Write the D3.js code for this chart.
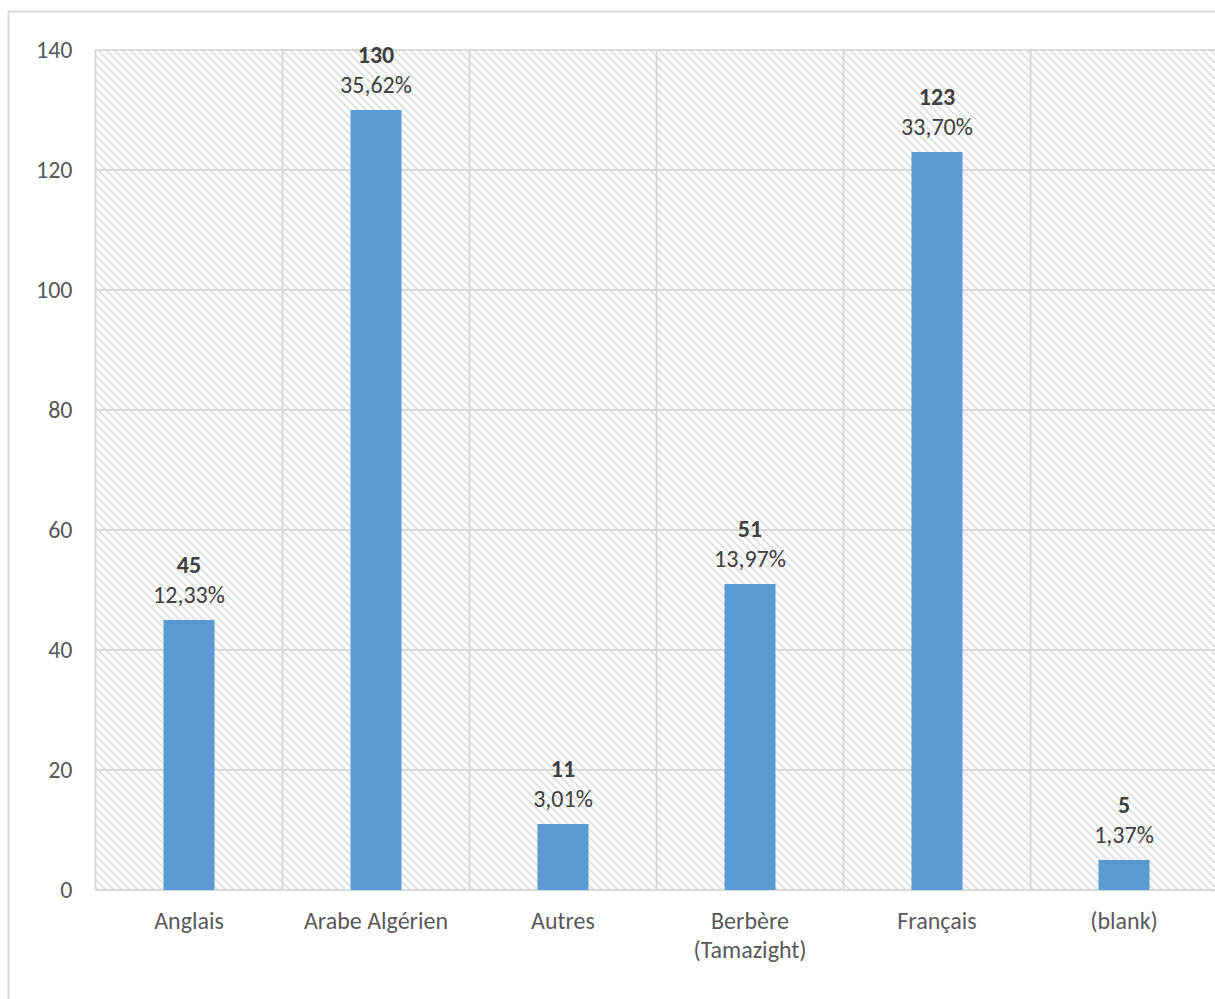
<!DOCTYPE html>
<html>
<head>
<meta charset="utf-8">
<script src="https://cdn.jsdelivr.net/npm/d3@7"></script>
<style>
  html, body { margin: 0; padding: 0; background: #fff; }
  svg { display: block; font-family: Calibri, Carlito, "Open Sans", sans-serif; }
</style>
</head>
<body>
<svg id="chart" width="1215" height="999"></svg>
<script>
// Language distribution: counts and shares per category
const categories = ["Anglais", "Arabe Algérien", "Autres", "Berbère\n(Tamazight)", "Français", "(blank)"];
const counts = [45, 130, 11, 51, 123, 5];
const shares = ["12,33%", "35,62%", "3,01%", "13,97%", "33,70%", "1,37%"];
const yTicks = [0, 20, 40, 60, 80, 100, 120, 140];

const FONT = 24;
const svg = d3.select("#chart");

// Outer chart frame
svg.append("rect")
  .attr("x", 8.5).attr("y", 11.5)
  .attr("width", 1240).attr("height", 1020)
  .attr("fill", "#fff").attr("stroke", "#d9d9d9").attr("stroke-width", 2);

const plot = { left: 95.5, top: 50, right: 1217.5, bottom: 890 };

// Diagonal hatch fill for the plot area
const defs = svg.append("defs");
const T = 8;
const pat = defs.append("pattern")
  .attr("id", "hatch")
  .attr("patternUnits", "userSpaceOnUse")
  .attr("width", T).attr("height", T);
pat.append("rect").attr("width", T).attr("height", T).attr("fill", "#fff");
pat.append("path")
  .attr("d", `M-1,-1 L${T + 1},${T + 1} M-${T + 1},-1 L1,${T + 1} M${T - 1},-1 L${2 * T + 1},${T + 1}`)
  .attr("stroke", "#dedede").attr("stroke-width", 1.7);

const x = d3.scaleBand()
  .domain(categories)
  .range([plot.left, plot.right])
  .paddingInner(0).paddingOuter(0);

const y = d3.scaleLinear()
  .domain([0, 140])
  .range([plot.bottom, plot.top]);

svg.append("rect")
  .attr("x", plot.left).attr("y", plot.top)
  .attr("width", plot.right - plot.left).attr("height", plot.bottom - plot.top)
  .attr("fill", "url(#hatch)");

// Horizontal gridlines
svg.append("g")
  .selectAll("line")
  .data(yTicks)
  .join("line")
  .attr("x1", plot.left).attr("x2", plot.right)
  .attr("y1", d => y(d)).attr("y2", d => y(d))
  .attr("stroke", "#d9d9d9").attr("stroke-width", 2);

// Vertical gridlines at category boundaries
const bounds = categories.map(c => x(c)).concat([plot.right]);
svg.append("g")
  .selectAll("line")
  .data(bounds)
  .join("line")
  .attr("x1", d => d).attr("x2", d => d)
  .attr("y1", plot.top).attr("y2", plot.bottom)
  .attr("stroke", "#d9d9d9").attr("stroke-width", 2);

// Y axis labels
const yAxis = d3.axisLeft(y).tickValues(yTicks).tickSize(0).tickPadding(0);
const gy = svg.append("g").attr("transform", `translate(${plot.left - 23},0)`).call(yAxis);
gy.select(".domain").remove();
gy.selectAll("text")
  .attr("fill", "#595959")
  .attr("font-size", FONT)
  .attr("font-family", "Calibri, Carlito, 'Open Sans', sans-serif")
  .attr("dy", "0.33em");

// X axis labels (multi-line)
const xl = svg.append("g");
categories.forEach(c => {
  const lines = c.split("\n");
  const t = xl.append("text")
    .attr("x", x(c) + x.bandwidth() / 2)
    .attr("y", 929)
    .attr("text-anchor", "middle")
    .attr("fill", "#595959")
    .attr("font-size", FONT);
  lines.forEach((ln, i) => {
    t.append("tspan")
      .attr("x", x(c) + x.bandwidth() / 2)
      .attr("dy", i === 0 ? 0 : 29)
      .text(ln);
  });
});

// Bars
const barW = 51;
svg.append("g")
  .selectAll("rect")
  .data(categories)
  .join("rect")
  .attr("x", (d) => x(d) + x.bandwidth() / 2 - barW / 2)
  .attr("y", (d, i) => y(counts[i]))
  .attr("width", barW)
  .attr("height", (d, i) => y(0) - y(counts[i]))
  .attr("fill", "#5b9bd5");

// Data labels: count (bold) above percentage
const lab = svg.append("g");
categories.forEach((c, i) => {
  const cx = x(c) + x.bandwidth() / 2;
  const top = y(counts[i]);
  lab.append("text")
    .attr("x", cx).attr("y", top - 47)
    .attr("text-anchor", "middle")
    .attr("fill", "#404040")
    .attr("font-size", FONT)
    .attr("font-weight", "bold")
    .text(counts[i]);
  lab.append("text")
    .attr("x", cx).attr("y", top - 17)
    .attr("text-anchor", "middle")
    .attr("fill", "#404040")
    .attr("font-size", FONT)
    .text(shares[i]);
});
</script>
</body>
</html>
